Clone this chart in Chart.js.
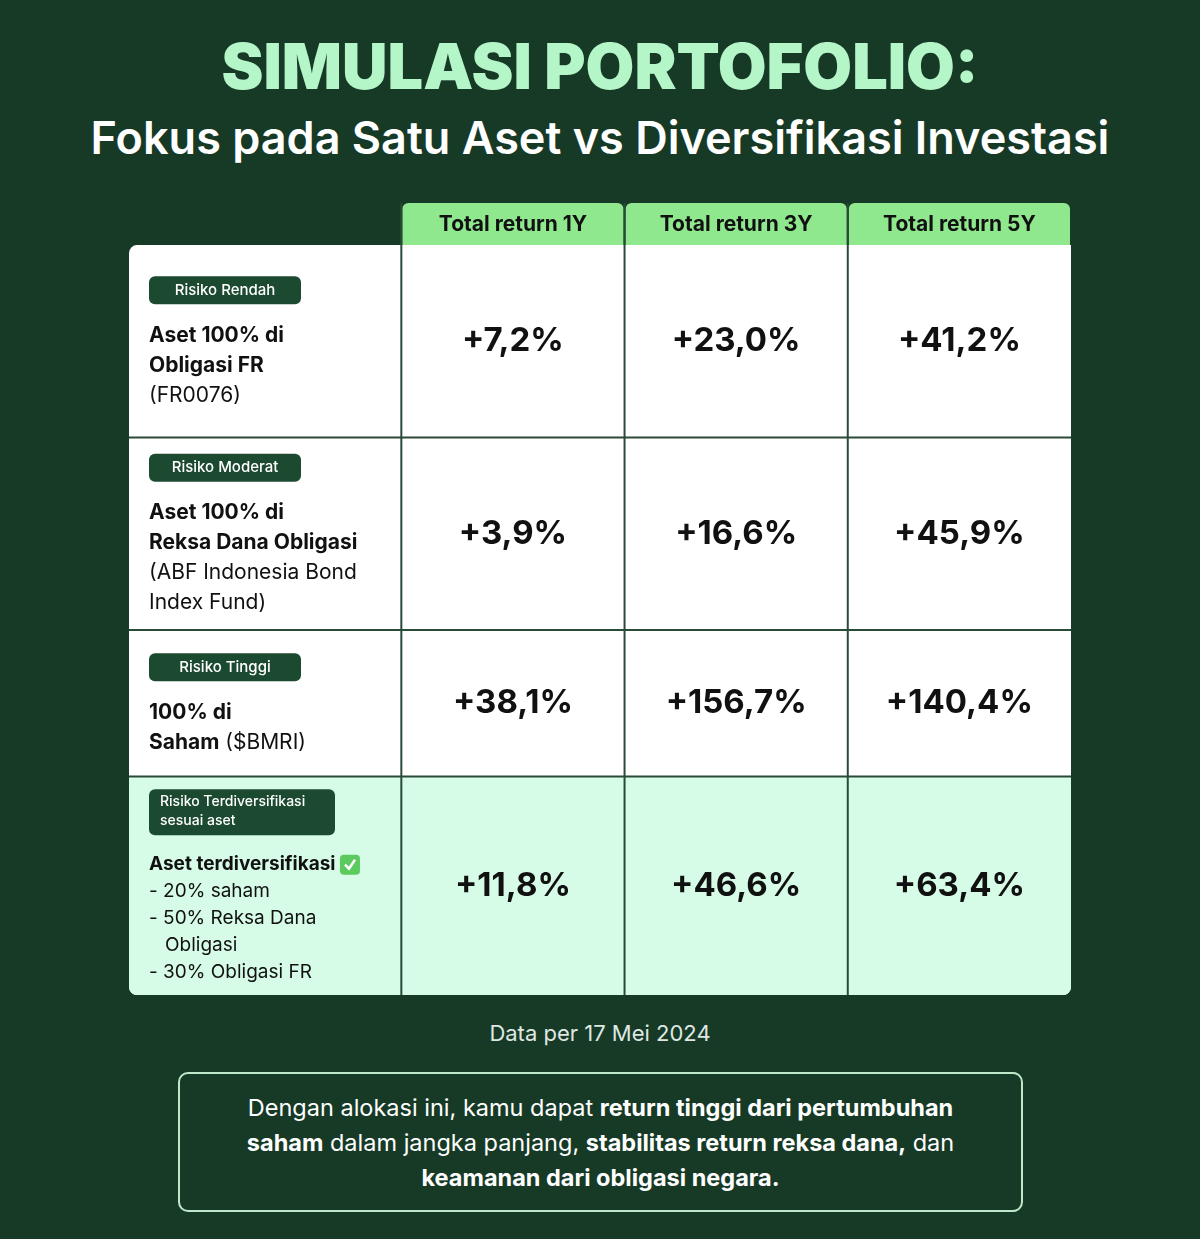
<!DOCTYPE html>
<html><head><meta charset="utf-8">
<script src="https://cdn.jsdelivr.net/npm/chart.js@4"></script>
<style>
html,body{margin:0;padding:0;background:#173a27;width:1200px;height:1239px;overflow:hidden;font-family:Inter,"Open Sans",sans-serif}
#t1{position:absolute;top:28px;left:0;width:1200px;text-align:center;color:#b4f6c8;font-size:63px;font-weight:900;letter-spacing:0px}
#t2{position:absolute;top:110px;left:0;width:1200px;text-align:center;color:#fff;font-size:45px;font-weight:600}
#wrap{position:absolute;left:129px;top:203px;width:942px;height:792px}
#note{position:absolute;top:1020px;left:0;width:1200px;text-align:center;color:#dfe8e2;font-size:22px}
#box{position:absolute;left:178px;top:1072px;width:845px;height:140px;border:2px solid #bfe8cb;border-radius:10px;color:#fff;font-size:23.5px;line-height:35px;text-align:center;box-sizing:border-box;padding-top:16px}
</style></head><body>
<div id="t1">SIMULASI PORTOFOLIO:</div>
<div id="t2">Fokus pada Satu Aset vs Diversifikasi Investasi</div>
<div id="wrap"><canvas id="c"></canvas></div>
<div id="note">Data per 17 Mei 2024</div>
<div id="box">Dengan alokasi ini, kamu dapat <b>return tinggi dari pertumbuhan<br>saham</b> dalam jangka panjang, <b>stabilitas return reksa dana,</b> dan<br><b>keamanan dari obligasi negara.</b></div>
<script>
const columns = ['Total return 1Y','Total return 3Y','Total return 5Y'];
const riskLabels = ['Risiko Rendah','Risiko Moderat','Risiko Tinggi','Risiko Terdiversifikasi\nsesuai aset'];
const assetLines = [
 [[['Aset 100% di',1]],[['Obligasi FR',1]],[['(FR0076)',0]]],
 [[['Aset 100% di',1]],[['Reksa Dana Obligasi',1]],[['(ABF Indonesia Bond',0]],[['Index Fund)',0]]],
 [[['100% di',1]],[['Saham',1],[' ($BMRI)',0]]],
 [[['Aset terdiversifikasi ',1],['CHECK',2]],[['- 20% saham',0]],[['- 50% Reksa Dana',0]],[['   Obligasi',0]],[['- 30% Obligasi FR',0]]]
];
const return1Y = [7.2, 3.9, 38.1, 11.8];
const return3Y = [23.0, 16.6, 156.7, 46.6];
const return5Y = [41.2, 45.9, 140.4, 63.4];
const series = [return1Y, return3Y, return5Y];

// layout (scale units): column edges and row edges
const colEdges = [0, 1.22, 2.22, 3.22, 4.22];
const rowEdges = [0, 42, 234, 426, 572, 790];

const pts = [];
series.forEach((s,ci)=>s.forEach((v,ri)=>pts.push({x:ci+1,y:ri+1,v})));

const F = 'Inter, "Open Sans", sans-serif';
function rr(ctx,x,y,w,h,r){ctx.beginPath();ctx.roundRect(x,y,w,h,r);}
const tablePlugin = {
 id:'table',
 afterDatasetsDraw(chart){
  const ctx=chart.ctx, xs=chart.scales.x, ys=chart.scales.y;
  const X=i=>xs.getPixelForValue(colEdges[i]), Y=i=>ys.getPixelForValue(rowEdges[i]);
  ctx.save();
  ctx.fillStyle='#ffffff';
  rr(ctx,X(0),Y(1),X(4)-X(0),Y(5)-Y(1),[8,0,8,8]);ctx.fill();
  ctx.fillStyle='#d6fbe7';
  rr(ctx,X(0),Y(4),X(4)-X(0),Y(5)-Y(4),[0,0,8,8]);ctx.fill();
  for(let c=1;c<=3;c++){
   ctx.fillStyle='#8fe88d';
   rr(ctx,X(c)+1,Y(0),X(c+1)-X(c)-2,Y(1)-Y(0),[6,6,0,0]);ctx.fill();
   ctx.fillStyle='#111';ctx.font='bold 21px '+F;ctx.textAlign='center';ctx.textBaseline='middle';
   ctx.fillText(columns[c-1],(X(c)+X(c+1))/2,(Y(0)+Y(1))/2+1);
  }
  ctx.strokeStyle='#2a4a38';ctx.lineWidth=2;
  for(let c=1;c<=3;c++){ctx.beginPath();ctx.moveTo(X(c),Y(0));ctx.lineTo(X(c),Y(5));ctx.stroke();}
  for(let r=2;r<=4;r++){ctx.beginPath();ctx.moveTo(X(0),Y(r));ctx.lineTo(X(4),Y(r));ctx.stroke();}
  ctx.fillStyle='#111';ctx.font='bold 33px '+F;ctx.textAlign='center';ctx.textBaseline='middle';
  chart.data.datasets[0].data.forEach(p=>{
   const cx=(X(p.x)+X(p.x+1))/2, cy=(Y(p.y)+Y(p.y+1))/2;
   ctx.fillText('+'+p.v.toFixed(1).replace('.',',')+'%',cx,cy);
  });
  for(let r=0;r<4;r++){
   const top=Y(r+1), h=Y(r+2)-top, lines=assetLines[r], bl=riskLabels[r].split('\n');
   const bh=bl.length>1?46:28, lh=bl.length>1?27:30;
   const blockH=bh+16+lines.length*lh;
   let y0=top+(h-blockH)/2+2;
   const bx=X(0)+20, bw=bl.length>1?186:152;
   ctx.fillStyle='#1c4a31';rr(ctx,bx,y0,bw,bh,6);ctx.fill();
   ctx.fillStyle='#fff';ctx.textAlign=bl.length>1?'left':'center';ctx.font='500 '+(bl.length>1?14:15)+'px '+F;
   bl.forEach((t,i)=>ctx.fillText(t,bl.length>1?bx+11:bx+bw/2,y0+(bl.length>1?13+i*19:bh/2)));
   let ly=y0+bh+16+lh/2;
   ctx.textAlign='left';
   lines.forEach(segs=>{
    let lx=X(0)+20;
    segs.forEach(([t,b])=>{
     if(b===2){ctx.fillStyle='#5ccb5f';rr(ctx,lx,ly-10,20,20,4);ctx.fill();
      ctx.strokeStyle='#fff';ctx.lineWidth=2.5;ctx.beginPath();ctx.moveTo(lx+5,ly);ctx.lineTo(lx+9,ly+4);ctx.lineTo(lx+15,ly-5);ctx.stroke();lx+=22;return;}
     ctx.fillStyle='#111';ctx.font=(b?'bold ':'')+(r===3?19:21)+'px '+F;
     ctx.fillText(t,lx,ly);lx+=ctx.measureText(t).width;
    });
    ly+=lh;
   });
  }
  ctx.restore();
 }
};
new Chart(document.getElementById('c'),{
 type:'scatter',
 data:{datasets:[{data:pts,pointRadius:0}]},
 options:{responsive:true,maintainAspectRatio:false,animation:false,
  layout:{padding:0},
  plugins:{legend:{display:false},tooltip:{enabled:false}},
  scales:{x:{type:'linear',min:0,max:4.22,display:false},y:{type:'linear',min:0,max:790,reverse:true,display:false}}},
 plugins:[tablePlugin]
});
</script></body></html>
